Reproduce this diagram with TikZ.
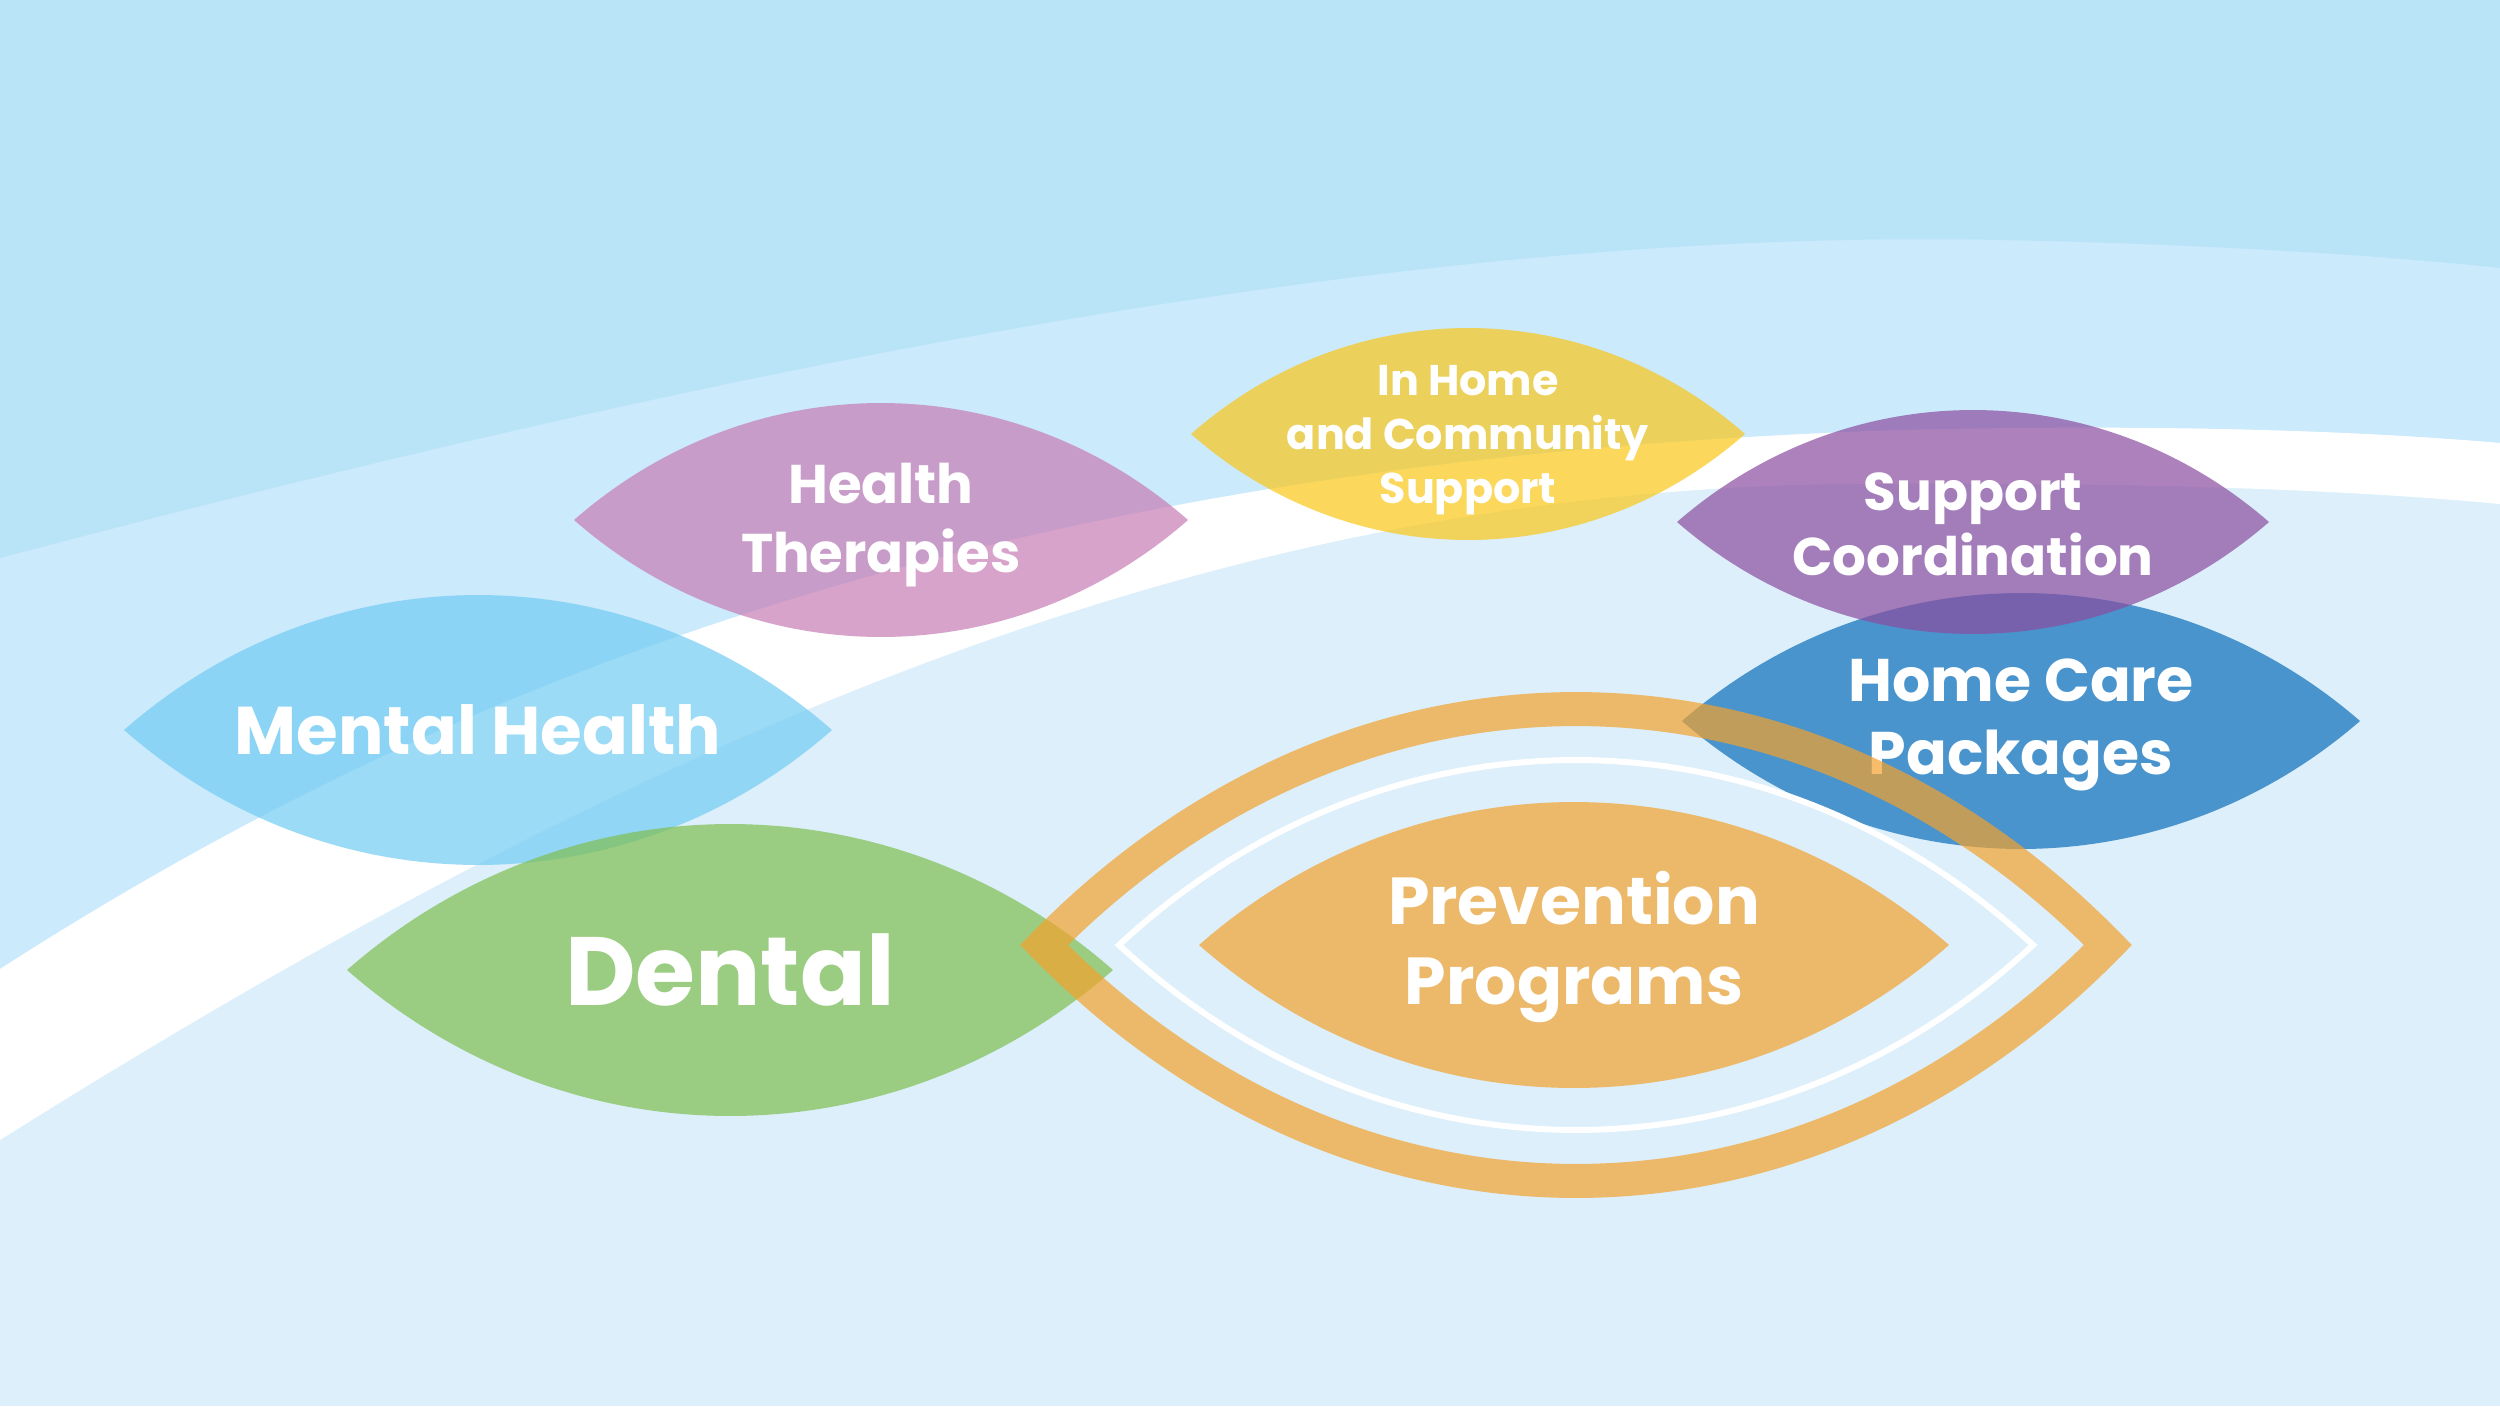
\documentclass[tikz,border=0pt]{standalone}
\usepackage{fontspec}
\setmainfont{Poppins}
\definecolor{bgTop}{HTML}{B9E4F8}
\definecolor{bgMid}{HTML}{CBEAFB}
\definecolor{bgLow}{HTML}{DCEFFA}
\definecolor{leafMental}{HTML}{72CCF3}
\definecolor{leafTherapy}{HTML}{C77CB5}
\definecolor{leafHome}{HTML}{FAC718}
\definecolor{leafSupport}{HTML}{8B4CA0}
\definecolor{leafCare}{HTML}{0B6EBA}
\definecolor{leafDental}{HTML}{7EBF50}
\definecolor{leafPrevent}{HTML}{F4A12C}
% lens shape: options, centre x, centre y, half width, half height
\newcommand{\lens}[5]{\path[#1] ({#2-#4},#3) .. controls ({#2-0.42*#4},{#3-1.333*#5}) and ({#2+0.42*#4},{#3-1.333*#5}) .. ({#2+#4},#3) .. controls ({#2+0.42*#4},{#3+1.333*#5}) and ({#2-0.42*#4},{#3+1.333*#5}) .. cycle;}

\begin{document}
\begin{tikzpicture}[
    x=0.01cm,y=-0.01cm,
    every node/.style={align=center,text=white,font=\bfseries},
    leaf/.style={fill opacity=0.7},
    ring/.style={draw=leafPrevent,draw opacity=0.7,line width=0.34cm},
    thinring/.style={draw=white,line width=0.06cm}
]
\useasboundingbox (0,0) rectangle (2500,1406);
% background bands
\fill[bgLow] (0,0) rectangle (2500,1406);
\fill[bgMid] (0,0) -- (0,969) .. controls (450,680) and (1000,460) .. (1900,430) .. controls (2150,424) and (2350,430) .. (2500,443) -- (2500,0) -- cycle;
\fill[bgTop] (0,0) -- (0,558) .. controls (900,320) and (1500,230) .. (2000,240) .. controls (2200,244) and (2380,255) .. (2500,268) -- (2500,0) -- cycle;
\fill[white] (0,969) .. controls (450,680) and (1000,460) .. (1900,430) .. controls (2150,424) and (2350,430) .. (2500,443)
    -- (2500,504) .. controls (2350,490) and (2150,482) .. (1850,484) .. controls (1250,490) and (700,700) .. (0,1140) -- cycle;

% leaves
\lens{leaf,fill=leafMental}{478}{730}{354}{135}
\node[font=\fontsize{19.2}{22}\selectfont\bfseries] (mental) at (478,730) {Mental Health};
\lens{leaf,fill=leafTherapy}{881}{520}{307}{117}
\node[font=\fontsize{15.5}{19.6}\selectfont\bfseries] (therapy) at (881,525) {Health\\Therapies};
\lens{leaf,fill=leafHome}{1468}{434}{277}{106}
\node[font=\fontsize{12.2}{15.4}\selectfont\bfseries] (inhome) at (1468,440) {In Home\\and Community\\Support};
\lens{leaf,fill=leafCare}{2021}{721}{339}{128}
\node[font=\fontsize{17.1}{20.8}\selectfont\bfseries] (care) at (2021,725) {Home Care\\Packages};
\lens{leaf,fill=leafSupport}{1973}{522}{296}{112}
\node[font=\fontsize{15.1}{18.5}\selectfont\bfseries] (support) at (1973,524) {Support\\Coordination};
\lens{leaf,fill=leafDental}{730}{970}{383}{146}
\node[font=\fontsize{27.6}{30}\selectfont\bfseries] (dental) at (730,970) {Dental};
\lens{leaf,fill=leafPrevent}{1574}{945}{375}{143}
\node[font=\fontsize{18.9}{23}\selectfont\bfseries] (prevent) at (1574,947) {Prevention\\Programs};

% rings round prevention
\lens{thinring}{1576}{945}{457}{185}
\lens{ring}{1576}{945}{532}{236}
\end{tikzpicture}
\end{document}
